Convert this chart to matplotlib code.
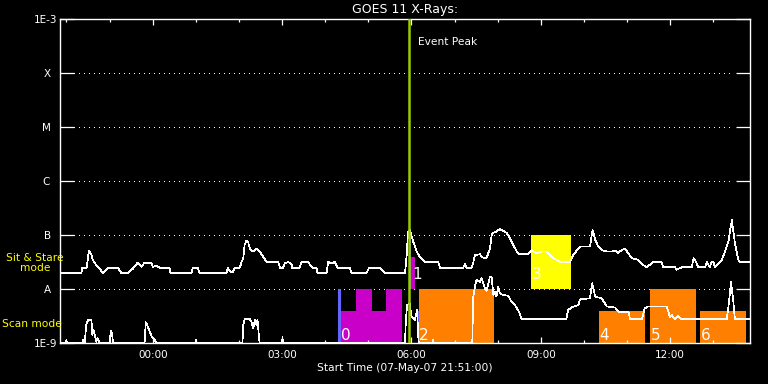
import matplotlib
matplotlib.use("Agg")
import matplotlib.pyplot as plt
from matplotlib.patches import Rectangle
from matplotlib.ticker import FixedLocator, MultipleLocator

# time axis: hours after 00:00 UT 08-May-07 (plot starts 07-May-07 21:51)
t_start, t_end = -2.15, 13.85
event_peak = 5.94

# GOES 11 long channel (1-8 A), W/m^2
long_t = [-2.16, -1.65, -1.64, -1.53, -1.48, -1.42, -1.39, -1.31, -1.23, -1.16, -1.07, -1.04,
          -0.81, -0.73, -0.58, -0.46, -0.35, -0.30, -0.26, -0.19, -0.03, 0.00, 0.09, 0.16,
          0.39, 0.41, 0.90, 0.93, 1.04, 1.09, 1.71, 1.74, 1.80, 1.86, 1.90, 2.02, 2.06, 2.10,
          2.13, 2.17, 2.21, 2.25, 2.29, 2.33, 2.41, 2.48, 2.56, 2.64, 2.91, 2.95, 3.02, 3.06,
          3.14, 3.22, 3.23, 3.41, 3.45, 3.60, 3.70, 3.80, 3.82, 4.03, 4.07, 4.15, 4.22, 4.29,
          4.57, 4.61, 4.96, 5.02, 5.27, 5.38, 5.85, 5.89, 5.92, 5.96, 6.04, 6.12, 6.19, 6.31,
          6.62, 6.66, 7.20, 7.24, 7.28, 7.39, 7.43, 7.47, 7.59, 7.63, 7.74, 7.82, 7.86, 7.89,
          7.97, 8.05, 8.13, 8.21, 8.28, 8.36, 8.44, 8.51, 8.71, 8.79, 8.90, 9.02, 9.13, 9.29,
          9.37, 9.44, 9.68, 9.75, 9.91, 10.14, 10.20, 10.26, 10.33, 10.41, 10.53, 10.65, 10.72,
          10.79, 10.86, 10.95, 11.03, 11.11, 11.26, 11.38, 11.45, 11.61, 11.80, 11.84, 12.11,
          12.15, 12.27, 12.50, 12.54, 12.60, 12.65, 12.81, 12.85, 12.92, 12.96, 13.00, 13.04,
          13.12, 13.20, 13.27, 13.35, 13.39, 13.43, 13.46, 13.50, 13.58, 13.62, 13.85]
long_flux = [2.0e-8, 2.0e-8, 2.5e-8, 2.5e-8, 5.2e-8, 4.3e-8, 3.5e-8, 2.8e-8, 2.4e-8, 2.0e-8, 2.3e-8, 2.5e-8,
             2.5e-8, 2.0e-8, 2.0e-8, 2.4e-8, 3.1e-8, 2.8e-8, 2.6e-8, 3.1e-8, 3.1e-8, 2.6e-8, 2.7e-8, 2.5e-8,
             2.5e-8, 2.0e-8, 2.0e-8, 2.5e-8, 2.5e-8, 2.0e-8, 2.0e-8, 2.5e-8, 2.1e-8, 2.1e-8, 2.5e-8, 2.5e-8, 3.2e-8, 3.75e-8,
             6.6e-8, 7.8e-8, 7.6e-8, 5.7e-8, 5.1e-8, 5.0e-8, 5.7e-8, 5.0e-8, 4.0e-8, 3.2e-8, 3.2e-8, 2.5e-8, 2.5e-8, 3.0e-8,
             3.2e-8, 2.9e-8, 2.5e-8, 2.5e-8, 3.2e-8, 3.2e-8, 2.5e-8, 2.5e-8, 2.0e-8, 2.0e-8, 3.2e-8, 3.0e-8, 3.2e-8, 2.5e-8,
             2.5e-8, 2.0e-8, 2.0e-8, 2.5e-8, 2.5e-8, 2.0e-8, 2.0e-8, 4.3e-8, 1.17e-7, 1.25e-7, 7.6e-8, 5.0e-8, 4.0e-8, 3.2e-8,
             3.2e-8, 2.5e-8, 2.5e-8, 2.9e-8, 2.5e-8, 2.5e-8, 3.0e-8, 4.3e-8, 4.45e-8, 3.9e-8, 3.75e-8, 5.7e-8, 1.0e-7, 1.1e-7,
             1.17e-7, 1.3e-7, 1.2e-7, 1.1e-7, 8.8e-8, 6.6e-8, 5.0e-8, 4.45e-8, 4.45e-8, 5.3e-8, 4.6e-8, 5.0e-8, 5.0e-8, 3.75e-8,
             3.5e-8, 3.2e-8, 3.2e-8, 4.3e-8, 6.2e-8, 6.2e-8, 1.25e-7, 8.2e-8, 6.2e-8, 5.3e-8, 5.0e-8, 5.0e-8, 5.2e-8,
             4.7e-8, 5.2e-8, 5.7e-8, 4.6e-8, 3.75e-8, 3.5e-8, 2.8e-8, 2.55e-8, 3.2e-8, 3.2e-8, 2.55e-8, 2.55e-8,
             2.3e-8, 2.55e-8, 2.55e-8, 3.75e-8, 3.2e-8, 2.55e-8, 2.55e-8, 3.2e-8, 2.55e-8, 3.2e-8, 3.2e-8, 2.55e-8,
             3.0e-8, 3.5e-8, 5.0e-8, 7.6e-8, 1.25e-7, 1.9e-7, 1.25e-7, 7.1e-8, 3.5e-8, 3.2e-8, 3.2e-8]

# GOES 11 short channel (0.5-4 A), W/m^2
short_t = [-2.16, -2.01, -2.00, -1.99, -1.62, -1.61, -1.60, -1.58, -1.54, -1.50, -1.42, -1.40, -1.37,
           -1.31, -1.28, -1.23, -1.01, -0.98, -0.96, -0.94, -0.92, -0.19, -0.16, -0.13, -0.07, -0.03,
           0.01, 0.05, 0.09, 1.00, 1.01, 1.02, 2.08, 2.10, 2.13, 2.25, 2.29, 2.33, 2.37, 2.40, 2.43,
           2.46, 2.48, 3.00, 3.01, 3.02, 5.85, 5.87, 5.90, 5.96, 6.00, 6.08, 6.13, 6.16, 6.17, 6.49,
           6.50, 6.51, 7.41, 7.43, 7.47, 7.51, 7.59, 7.63, 7.70, 7.74, 7.82, 7.86, 7.90, 7.93, 7.97,
           8.01, 8.05, 8.13, 8.24, 8.32, 8.40, 8.47, 8.51, 8.55, 9.59, 9.63, 9.71, 9.87, 9.91, 10.14,
           10.19, 10.26, 10.41, 10.53, 10.72, 10.80, 11.03, 11.07, 11.34, 11.41, 11.49, 11.92, 11.99,
           12.04, 12.11, 12.18, 12.27, 13.31, 13.36, 13.41, 13.46, 13.50, 13.85]
short_flux = [1.0e-9, 1.0e-9, 1.15e-9, 1.0e-9, 1.0e-9, 1.15e-9, 1.0e-9, 1.0e-9, 2.2e-9, 2.7e-9, 2.7e-9, 1.43e-9, 1.75e-9,
              1.07e-9, 1.25e-9, 1.0e-9, 1.0e-9, 1.43e-9, 1.69e-9, 1.43e-9, 1.0e-9, 1.0e-9, 2.45e-9, 2.2e-9, 1.65e-9, 1.37e-9,
              1.25e-9, 1.15e-9, 1.0e-9, 1.0e-9, 1.15e-9, 1.0e-9, 1.0e-9, 2.2e-9, 2.8e-9, 2.8e-9, 2.5e-9, 1.9e-9, 2.7e-9, 2.2e-9, 2.7e-9,
              1.43e-9, 1.0e-9, 1.0e-9, 1.3e-9, 1.0e-9, 1.0e-9, 2.7e-9, 5.1e-9, 5.5e-9, 3.1e-9, 2.7e-9, 4.1e-9, 1.27e-9, 1.0e-9, 1.0e-9,
              1.15e-9, 1.0e-9, 1.0e-9, 6.8e-9, 1.12e-8, 1.49e-8, 1.38e-8, 1.6e-8, 1.04e-8, 9.3e-9, 1.71e-8, 1.66e-8, 7.8e-9, 9.0e-9, 7.3e-9,
              1.12e-8, 8.4e-9, 7.8e-9, 7.6e-9, 5.9e-9, 5.1e-9, 4.1e-9, 3.6e-9, 2.8e-9, 2.78e-9, 4.1e-9, 4.6e-9, 5.1e-9, 6.5e-9, 6.8e-9,
              1.29e-8, 7.3e-9, 6.8e-9, 4.8e-9, 4.6e-9, 3.85e-9, 3.85e-9, 2.78e-9, 2.78e-9, 4.45e-9, 4.8e-9, 4.8e-9, 3.1e-9,
              3.3e-9, 2.78e-9, 3.2e-9, 2.78e-9, 2.78e-9, 5.5e-9, 1.38e-8, 6.3e-9, 2.78e-9, 2.78e-9]

# observing mode boxes: start, end (hours), lower, upper flux, colour
box_t0 = [4.29, 4.36, 4.71, 5.41, 5.96, 6.00, 6.14, 6.17, 8.77, 10.35, 11.53, 12.69]
box_t1 = [4.36, 5.78, 5.08, 5.78, 6.00, 6.08, 6.17, 7.91, 9.71, 11.42, 12.59, 13.76]
box_lo = [1e-9, 1e-9, 1e-9, 1e-9, 1e-8, 1e-8, 1e-9, 1e-9, 1e-8, 1e-9, 1e-9, 1e-9]
box_hi = [1e-8, 4e-9, 1e-8, 1e-8, 1e-7, 4e-8, 4e-9, 1e-8, 1e-7, 4e-9, 1e-8, 4e-9]
box_col = ['#6464ff', '#c800c8', '#c800c8', '#c800c8', '#6464ff', '#c800c8',
           '#6464ff', '#ff8000', '#ffff00', '#ff8000', '#ff8000', '#ff8000']

# box numbers
num_text = ['0', '1', '2', '3', '4', '5', '6']
num_t = [4.37, 6.01, 6.17, 8.79, 10.36, 11.55, 12.70]
num_y = [1.15e-9, 1.55e-8, 1.15e-9, 1.55e-8, 1.15e-9, 1.15e-9, 1.15e-9]

flux_ticks = [1e-9, 1e-8, 1e-7, 1e-6, 1e-5, 1e-4, 1e-3]
flux_labels = ['1E-9', 'A  ', 'B  ', 'C  ', 'M  ', 'X  ', '1E-3']
hour_ticks = [0, 3, 6, 9, 12]
hour_labels = ['00:00', '03:00', '06:00', '09:00', '12:00']

fig = plt.figure(figsize=(7.68, 3.84), dpi=100, facecolor='black')
ax = fig.add_axes([60 / 768, 1 - 343.3 / 384, 690 / 768, 324.3 / 384], facecolor='black')

for t0, t1, lo, hi, c in zip(box_t0, box_t1, box_lo, box_hi, box_col):
    ax.add_patch(Rectangle((t0, lo), t1 - t0, hi - lo, facecolor=c, edgecolor='none',
                           antialiased=False, zorder=1))

for lvl in flux_ticks[1:-1]:
    ax.axhline(lvl, xmin=14 / 690, xmax=1 - 16 / 690, color='white', lw=0.72,
               ls=(0, (1, 5)), antialiased=False, zorder=0.5)

ax.plot(long_t, long_flux, color='white', lw=0.5, antialiased=False, zorder=3)
ax.plot(short_t, short_flux, color='white', lw=0.5, antialiased=False, zorder=3)

ax.axvline(event_peak, color='#9acd00', lw=1.8, zorder=4)
ax.text(event_peak + 0.22, 10 ** -3.43, 'Event Peak', color='white', fontsize=7.7,
        va='center', ha='left', zorder=5)

for s, t, y in zip(num_text, num_t, num_y):
    ax.text(t, y, s, color='white', fontsize=11, ha='left', va='baseline', zorder=5)

ax.set_yscale('log')
ax.set_ylim(1e-9, 1e-3)
ax.set_xlim(t_start, t_end)
ax.yaxis.set_major_locator(FixedLocator(flux_ticks))
ax.set_yticklabels(flux_labels)
ax.yaxis.set_minor_locator(FixedLocator([]))
ax.set_xticks(hour_ticks)
ax.set_xticklabels(hour_labels)
ax.xaxis.set_minor_locator(MultipleLocator(1))

ax.tick_params(axis='y', which='major', direction='in', length=10, width=0.9,
               left=True, right=True, colors='white', labelsize=7.5, pad=2)
ax.tick_params(axis='x', which='major', direction='in', length=4.3, width=0.9,
               top=True, bottom=True, colors='white', labelsize=7.5, pad=5)
ax.tick_params(axis='x', which='minor', direction='in', length=2.2, width=0.9,
               top=True, bottom=True, colors='white')
for sp in ax.spines.values():
    sp.set_color('white')
    sp.set_linewidth(1.0)

ax.set_title('GOES 11 X-Rays:', color='white', fontsize=9, pad=4)
ax.set_xlabel('Start Time (07-May-07 21:51:00)', color='white', fontsize=7.7, labelpad=2)

fig.text(35 / 768, 1 - 263 / 384, 'Sit & Stare\nmode', color='yellow', fontsize=7.7,
         ha='center', va='center', multialignment='center', linespacing=1.1)
fig.text(2 / 768, 1 - 324 / 384, 'Scan mode', color='yellow', fontsize=7.7,
         ha='left', va='center')

fig.savefig('out.png', dpi=100, facecolor='black')
